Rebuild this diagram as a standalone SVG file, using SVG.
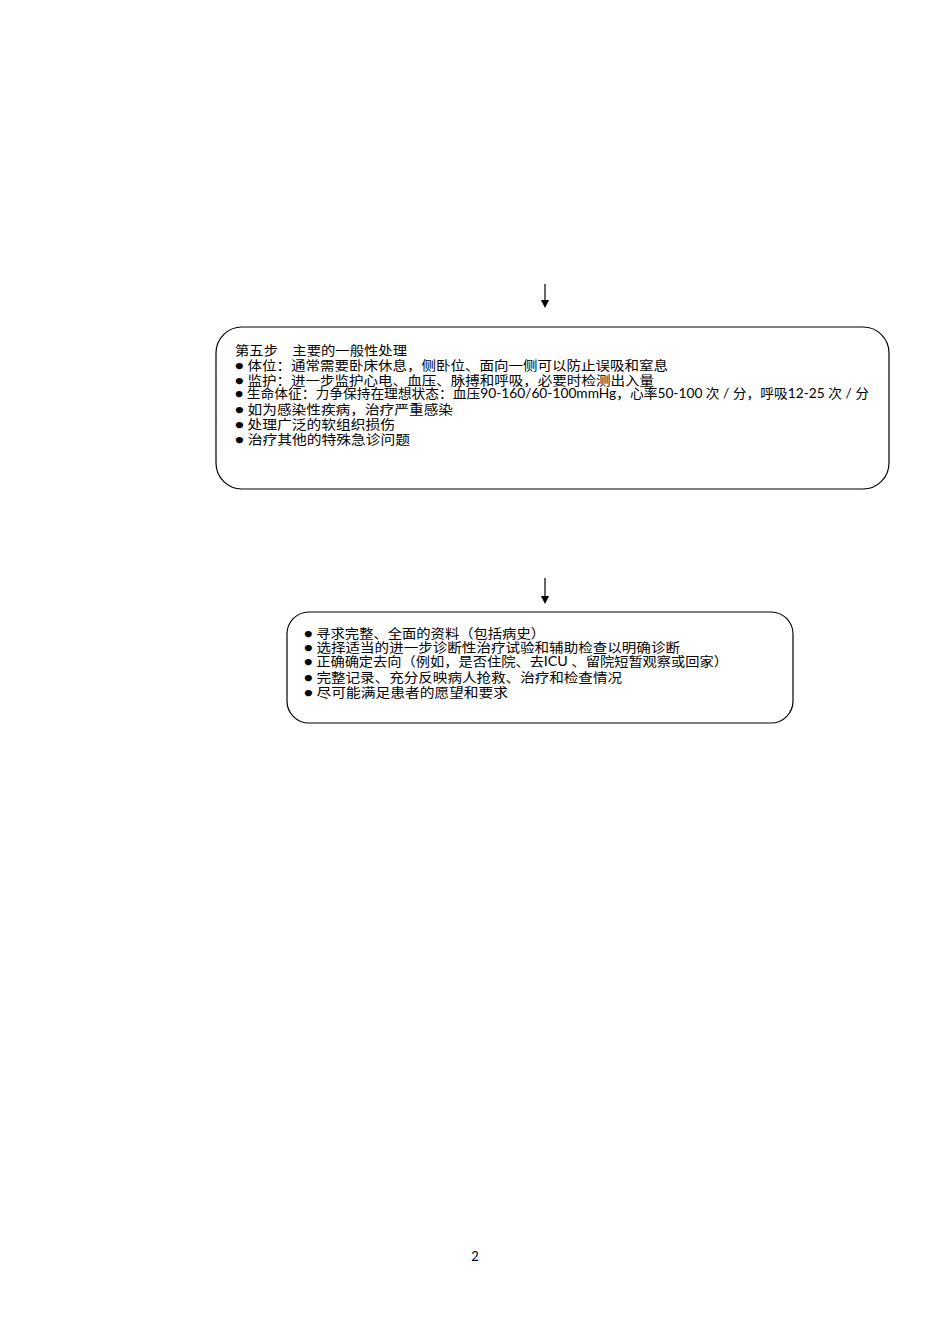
<svg xmlns="http://www.w3.org/2000/svg" width="950" height="1344" viewBox="0 0 950 1344">
<style>
.box{fill:#fff;stroke:#000;stroke-width:1.2}
.t{font-family:"Lato","Noto Sans CJK SC",sans-serif;font-size:13px;fill:#000}
.c{stroke:#000;stroke-width:1.2}
</style>
<defs><marker id="a" markerWidth="8" markerHeight="8" refX="4" refY="4" orient="auto" markerUnits="userSpaceOnUse"><path d="M0,0 L8,4 L0,8 Z" fill="#000"/></marker></defs>
<rect width="950" height="1344" fill="#fff"/>
<g id="connectors">
<line class="c" x1="545" y1="284" x2="545" y2="304" marker-end="url(#a)"/>
<line class="c" x1="545" y1="578" x2="545" y2="600" marker-end="url(#a)"/>
</g>
<g id="step5">
<rect class="box" x="216" y="327" width="673" height="162" rx="26"/>
<text class="t" x="235" y="355" textLength="172" lengthAdjust="spacingAndGlyphs">第五步　主要的一般性处理</text>
<text class="t" x="235" y="370" textLength="433" lengthAdjust="spacingAndGlyphs">● 体位：通常需要卧床休息，侧卧位、面向一侧可以防止误吸和窒息</text>
<text class="t" x="235" y="385" textLength="419" lengthAdjust="spacingAndGlyphs">● 监护：进一步监护心电、血压、脉搏和呼吸，必要时检测出入量</text>
<text class="t" x="235" y="398" textLength="634" lengthAdjust="spacingAndGlyphs">● 生命体征：力争保持在理想状态：血压90-160/60-100mmHg，心率50-100 次 / 分，呼吸12-25 次 / 分</text>
<text class="t" x="235" y="414" textLength="218" lengthAdjust="spacingAndGlyphs">● 如为感染性疾病，治疗严重感染</text>
<text class="t" x="235" y="429" textLength="160" lengthAdjust="spacingAndGlyphs">● 处理广泛的软组织损伤</text>
<text class="t" x="235" y="444" textLength="175" lengthAdjust="spacingAndGlyphs">● 治疗其他的特殊急诊问题</text>
</g>
<g id="final">
<rect class="box" x="287" y="612" width="506" height="111" rx="22"/>
<text class="t" x="304" y="638" textLength="241" lengthAdjust="spacingAndGlyphs">● 寻求完整、全面的资料（包括病史）</text>
<text class="t" x="304" y="652" textLength="376" lengthAdjust="spacingAndGlyphs">● 选择适当的进一步诊断性治疗试验和辅助检查以明确诊断</text>
<text class="t" x="304" y="666" textLength="424" lengthAdjust="spacingAndGlyphs">● 正确确定去向（例如，是否住院、去ICU 、留院短暂观察或回家）</text>
<text class="t" x="304" y="682" textLength="318" lengthAdjust="spacingAndGlyphs">● 完整记录、充分反映病人抢救、治疗和检查情况</text>
<text class="t" x="304" y="697" textLength="204" lengthAdjust="spacingAndGlyphs">● 尽可能满足患者的愿望和要求</text>
</g>
<text class="t" x="475" y="1261" text-anchor="middle">2</text>
</svg>
